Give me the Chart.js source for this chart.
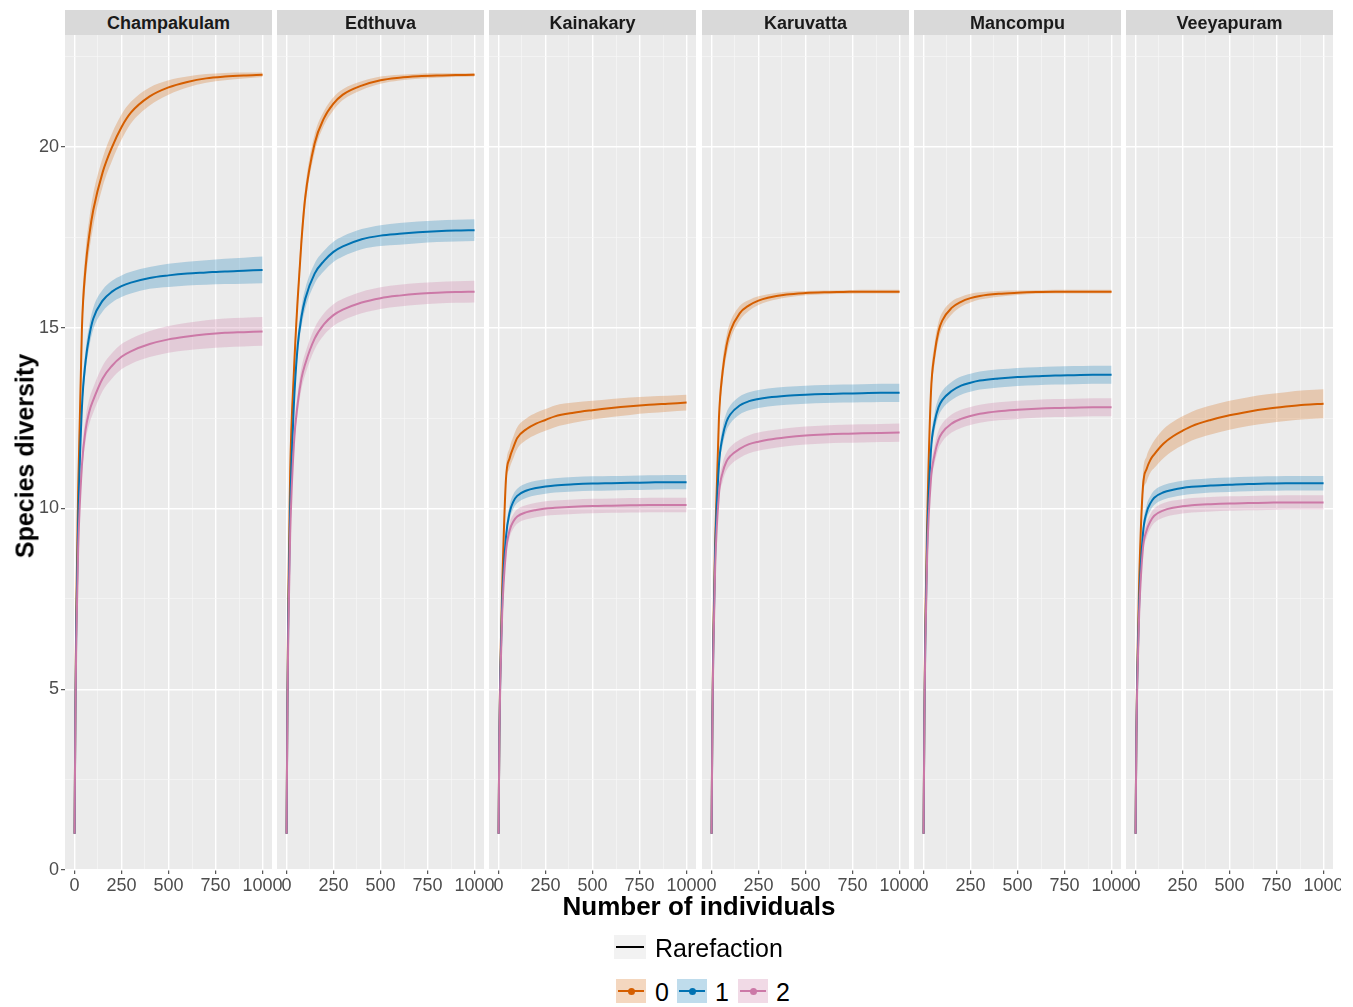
<!DOCTYPE html>
<html>
<head>
<meta charset="utf-8">
<script src="https://cdn.jsdelivr.net/npm/chart.js@4.4.1/dist/chart.umd.min.js"></script>
<style>
  html, body { margin: 0; padding: 0; background: #fff; }
  body { width: 1353px; height: 1007px; position: relative; overflow: hidden; font-family: "Liberation Sans", Arial, sans-serif; }
  #plots { position: absolute; left: 0; top: 0; width: 1341px; height: 905px; overflow: hidden; }
  #plots canvas { position: absolute; top: 20px; }
  .strip { position: absolute; top: 10px; height: 25px; line-height: 27px; background: #d9d9d9; color: #1a1a1a; font-weight: bold; font-size: 18px; text-align: center; }
  #ytitle { position: absolute; left: 25px; top: 456px; transform: translate(-50%, -50%) rotate(-90deg); font-weight: bold; font-size: 25px; white-space: nowrap; color: #000; }
  #xtitle { position: absolute; left: 699px; top: 906px; transform: translate(-50%, -50%); font-weight: bold; font-size: 26px; white-space: nowrap; color: #000; }
  .key { position: absolute; box-sizing: border-box; }
  .key .ln { position: absolute; left: 2px; right: 2px; top: 50%; height: 2px; margin-top: -1px; }
  .key .dot { position: absolute; left: 50%; top: 50%; width: 7px; height: 7px; margin: -3.5px 0 0 -3.5px; border-radius: 50%; }
  .ltext { position: absolute; font-size: 25px; color: #000; line-height: 24px; white-space: nowrap; }
</style>
</head>
<body>
<div id="plots"></div>
<div id="ytitle">Species diversity</div>
<div id="xtitle">Number of individuals</div>
<div id="legend"></div>
<script>
const sites = ['Champakulam', 'Edthuva', 'Kainakary', 'Karuvatta', 'Mancompu', 'Veeyapuram'];
const orders = ['0', '1', '2'];
const sampleSizes = [1, 5, 10, 20, 40, 60, 80, 100, 150, 200, 250, 300, 400, 500, 600, 700, 800, 900, 1000];

const xMajor = [0, 250, 500, 750, 1000];
const xMinor = [125, 375, 625, 875];
const yMajor = [0, 5, 10, 15, 20];
const yMinor = [2.5, 7.5, 12.5, 17.5, 22.5];

// estimated diversity (q = 0, 1, 2) per site
const champQ0 = [1, 4.5, 7.2, 10.5, 15.0, 16.7, 17.6, 18.25, 19.3, 20.0, 20.55, 20.95, 21.4, 21.65, 21.8, 21.9, 21.95, 21.98, 22.0];
const champQ1 = [1, 4.3, 6.8, 9.6, 12.8, 14.1, 14.8, 15.25, 15.75, 16.0, 16.15, 16.25, 16.38, 16.45, 16.5, 16.53, 16.56, 16.58, 16.6];
const champQ2 = [1, 4.1, 6.4, 8.9, 11.2, 12.2, 12.7, 13.0, 13.6, 13.95, 14.2, 14.35, 14.55, 14.68, 14.76, 14.82, 14.86, 14.88, 14.9];

const edthQ0 = [1, 4.6, 7.5, 11.0, 13.8, 15.8, 17.4, 18.6, 20.1, 20.8, 21.2, 21.45, 21.7, 21.85, 21.92, 21.96, 21.98, 21.99, 22.0];
const edthQ1 = [1, 4.4, 7.0, 10.0, 12.9, 14.5, 15.3, 15.8, 16.5, 16.85, 17.1, 17.25, 17.45, 17.55, 17.6, 17.64, 17.67, 17.69, 17.7];
const edthQ2 = [1, 4.2, 6.6, 9.3, 11.8, 12.9, 13.6, 14.0, 14.7, 15.1, 15.35, 15.5, 15.7, 15.82, 15.89, 15.94, 15.97, 15.99, 16.0];

const kainQ0 = [1, 3.8, 5.6, 7.8, 10.8, 11.4, 11.7, 11.95, 12.2, 12.35, 12.45, 12.55, 12.65, 12.72, 12.78, 12.83, 12.87, 12.9, 12.93];
const kainQ1 = [1, 3.7, 5.4, 7.4, 9.2, 9.9, 10.2, 10.35, 10.5, 10.57, 10.61, 10.64, 10.67, 10.69, 10.7, 10.71, 10.72, 10.73, 10.73];
const kainQ2 = [1, 3.6, 5.2, 7.1, 8.8, 9.4, 9.65, 9.78, 9.9, 9.96, 10.0, 10.02, 10.05, 10.07, 10.08, 10.09, 10.1, 10.1, 10.1];

const karuQ0 = [1, 4.2, 6.5, 9.1, 12.5, 13.8, 14.5, 14.9, 15.4, 15.62, 15.75, 15.83, 15.92, 15.96, 15.98, 15.99, 16.0, 16.0, 16.0];
const karuQ1 = [1, 4.0, 6.2, 8.8, 11.2, 12.0, 12.4, 12.6, 12.85, 12.97, 13.03, 13.07, 13.12, 13.15, 13.17, 13.18, 13.19, 13.2, 13.2];
const karuQ2 = [1, 3.9, 6.0, 8.4, 10.4, 11.0, 11.3, 11.45, 11.65, 11.78, 11.85, 11.9, 11.97, 12.02, 12.05, 12.07, 12.08, 12.09, 12.1];

const mancQ0 = [1, 4.3, 6.8, 9.6, 13.2, 14.3, 14.9, 15.2, 15.55, 15.72, 15.82, 15.88, 15.94, 15.97, 15.99, 16.0, 16.0, 16.0, 16.0];
const mancQ1 = [1, 4.1, 6.4, 9.1, 11.6, 12.4, 12.8, 13.0, 13.25, 13.4, 13.48, 13.54, 13.6, 13.64, 13.66, 13.68, 13.69, 13.7, 13.7];
const mancQ2 = [1, 4.0, 6.2, 8.7, 10.8, 11.5, 11.9, 12.1, 12.35, 12.48, 12.56, 12.62, 12.69, 12.73, 12.76, 12.78, 12.79, 12.8, 12.8];

const veeyQ0 = [1, 3.8, 5.6, 8.0, 10.6, 11.1, 11.35, 11.5, 11.8, 12.0, 12.15, 12.28, 12.45, 12.58, 12.68, 12.76, 12.82, 12.87, 12.9];
const veeyQ1 = [1, 3.7, 5.4, 7.4, 9.3, 9.9, 10.15, 10.3, 10.45, 10.52, 10.57, 10.6, 10.64, 10.66, 10.68, 10.69, 10.7, 10.7, 10.7];
const veeyQ2 = [1, 3.6, 5.2, 7.1, 8.9, 9.4, 9.65, 9.8, 9.95, 10.02, 10.06, 10.09, 10.12, 10.14, 10.15, 10.16, 10.17, 10.17, 10.17];

// half-width of the confidence ribbons
const champCi0 = [0, 0.1, 0.2, 0.3, 0.4, 0.45, 0.45, 0.45, 0.4, 0.38, 0.35, 0.3, 0.25, 0.2, 0.15, 0.12, 0.1, 0.08, 0.06];
const champCi1 = [0, 0.1, 0.15, 0.2, 0.3, 0.3, 0.3, 0.3, 0.3, 0.3, 0.3, 0.3, 0.3, 0.32, 0.33, 0.34, 0.35, 0.36, 0.37];
const champCi2 = [0, 0.1, 0.15, 0.2, 0.3, 0.33, 0.35, 0.35, 0.35, 0.35, 0.35, 0.35, 0.36, 0.37, 0.38, 0.39, 0.4, 0.4, 0.4];

const edthCi0 = [0, 0.1, 0.15, 0.2, 0.3, 0.3, 0.3, 0.28, 0.25, 0.2, 0.18, 0.15, 0.12, 0.1, 0.08, 0.07, 0.06, 0.05, 0.05];
const edthCi1 = [0, 0.1, 0.15, 0.2, 0.25, 0.28, 0.28, 0.28, 0.28, 0.28, 0.28, 0.28, 0.28, 0.29, 0.3, 0.3, 0.3, 0.3, 0.3];
const edthCi2 = [0, 0.1, 0.15, 0.2, 0.25, 0.28, 0.3, 0.3, 0.3, 0.3, 0.3, 0.3, 0.3, 0.3, 0.3, 0.3, 0.3, 0.3, 0.3];

const kainCi0 = [0, 0.1, 0.15, 0.2, 0.25, 0.28, 0.3, 0.3, 0.3, 0.3, 0.3, 0.3, 0.28, 0.26, 0.25, 0.24, 0.23, 0.22, 0.22];
const kainCi1 = [0, 0.05, 0.1, 0.15, 0.18, 0.2, 0.2, 0.2, 0.2, 0.2, 0.2, 0.2, 0.2, 0.2, 0.2, 0.2, 0.2, 0.2, 0.2];
const kainCi2 = [0, 0.05, 0.1, 0.15, 0.18, 0.2, 0.2, 0.2, 0.2, 0.2, 0.2, 0.2, 0.2, 0.2, 0.2, 0.2, 0.2, 0.2, 0.2];

const karuCi0 = [0, 0.1, 0.15, 0.2, 0.3, 0.3, 0.28, 0.25, 0.2, 0.15, 0.12, 0.1, 0.08, 0.06, 0.05, 0.05, 0.05, 0.05, 0.05];
const karuCi1 = [0, 0.05, 0.1, 0.15, 0.2, 0.25, 0.25, 0.25, 0.25, 0.25, 0.25, 0.25, 0.25, 0.25, 0.25, 0.25, 0.25, 0.25, 0.25];
const karuCi2 = [0, 0.05, 0.1, 0.15, 0.2, 0.25, 0.25, 0.25, 0.25, 0.25, 0.25, 0.25, 0.25, 0.25, 0.25, 0.25, 0.25, 0.25, 0.25];

const mancCi0 = [0, 0.1, 0.15, 0.2, 0.3, 0.28, 0.25, 0.22, 0.18, 0.14, 0.12, 0.1, 0.08, 0.06, 0.05, 0.05, 0.05, 0.05, 0.05];
const mancCi1 = [0, 0.05, 0.1, 0.15, 0.2, 0.25, 0.25, 0.25, 0.25, 0.25, 0.25, 0.25, 0.25, 0.25, 0.25, 0.25, 0.25, 0.25, 0.25];
const mancCi2 = [0, 0.05, 0.1, 0.15, 0.2, 0.25, 0.25, 0.25, 0.25, 0.25, 0.25, 0.25, 0.25, 0.25, 0.25, 0.25, 0.25, 0.25, 0.25];

const veeyCi0 = [0, 0.1, 0.15, 0.2, 0.3, 0.35, 0.35, 0.38, 0.4, 0.4, 0.4, 0.4, 0.4, 0.4, 0.4, 0.4, 0.4, 0.4, 0.4];
const veeyCi1 = [0, 0.05, 0.1, 0.15, 0.18, 0.2, 0.2, 0.2, 0.2, 0.2, 0.2, 0.2, 0.2, 0.2, 0.2, 0.2, 0.2, 0.2, 0.2];
const veeyCi2 = [0, 0.05, 0.1, 0.15, 0.18, 0.2, 0.2, 0.2, 0.2, 0.2, 0.2, 0.2, 0.2, 0.2, 0.2, 0.2, 0.2, 0.2, 0.2];

const panelSeries = [
  [champQ0, champQ1, champQ2],
  [edthQ0, edthQ1, edthQ2],
  [kainQ0, kainQ1, kainQ2],
  [karuQ0, karuQ1, karuQ2],
  [mancQ0, mancQ1, mancQ2],
  [veeyQ0, veeyQ1, veeyQ2],
];
const panelCi = [
  [champCi0, champCi1, champCi2],
  [edthCi0, edthCi1, edthCi2],
  [kainCi0, kainCi1, kainCi2],
  [karuCi0, karuCi1, karuCi2],
  [mancCi0, mancCi1, mancCi2],
  [veeyCi0, veeyCi1, veeyCi2],
];

const LINE_COLORS = ['#D55E00', '#0072B2', '#CC79A7'];
const BAND_COLORS = ['rgba(213,94,0,0.25)', 'rgba(0,114,178,0.25)', 'rgba(204,121,167,0.28)'];

const PANEL_LEFT = [65, 277, 489, 702, 914, 1126];
const PANEL_W = 207;
const PANEL_H = 835;
const PAD = 20;
const TOP_PAD = 15;
const Y_AXIS_W = 45;
const X_AXIS_H = 30;

const panelBg = {
  id: 'panelBg',
  beforeDraw(chart) {
    const { ctx, chartArea: a } = chart;
    ctx.save();
    ctx.fillStyle = '#ebebeb';
    ctx.fillRect(a.left, a.top, a.right - a.left, a.bottom - a.top);
    ctx.restore();
  },
};

const plots = document.getElementById('plots');

sites.forEach((site, p) => {
  const first = p === 0;
  const canvas = document.createElement('canvas');
  const w = (first ? Y_AXIS_W : PAD) + PANEL_W + PAD;
  const h = TOP_PAD + PANEL_H + X_AXIS_H;
  canvas.width = w;
  canvas.height = h;
  canvas.style.left = (PANEL_LEFT[p] - (first ? Y_AXIS_W : PAD)) + 'px';
  plots.appendChild(canvas);

  const datasets = [];
  // ribbons (drawn underneath)
  panelSeries[p].forEach((vals, s) => {
    const ci = panelCi[p][s];
    const loIdx = datasets.length;
    datasets.push({
      data: sampleSizes.map((x, i) => ({ x, y: vals[i] - ci[i] })),
      borderWidth: 0, pointRadius: 0, fill: false, order: 20 + s,
      cubicInterpolationMode: 'monotone',
    });
    datasets.push({
      data: sampleSizes.map((x, i) => ({ x, y: vals[i] + ci[i] })),
      borderWidth: 0, pointRadius: 0, backgroundColor: BAND_COLORS[s],
      fill: loIdx, order: 20 + s,
      cubicInterpolationMode: 'monotone',
    });
  });
  // lines
  panelSeries[p].forEach((vals, s) => {
    datasets.push({
      label: orders[s],
      data: sampleSizes.map((x, i) => ({ x, y: vals[i] })),
      borderColor: LINE_COLORS[s], borderWidth: 2, pointRadius: 0, fill: false,
      order: 2 - s,
      cubicInterpolationMode: 'monotone',
    });
  });

  const gridColor = (major) => (ctx) => (major.includes(ctx.tick.value) ? '#ffffff' : '#f7f7f7');
  const gridWidth = (major) => (ctx) => (major.includes(ctx.tick.value) ? 1.4 : 0.7);
  const tickCol = (major) => (ctx) => (major.includes(ctx.tick.value) ? '#333333' : 'rgba(0,0,0,0)');

  new Chart(canvas, {
    type: 'line',
    data: { datasets },
    options: {
      responsive: false,
      animation: false,
      devicePixelRatio: 1,
      layout: { padding: { left: first ? 0 : PAD, right: PAD, top: TOP_PAD, bottom: 0 } },
      plugins: { legend: { display: false }, tooltip: { enabled: false } },
      scales: {
        x: {
          type: 'linear', min: -50, max: 1050,
          afterBuildTicks: (scale) => { scale.ticks = [...xMajor, ...xMinor].sort((a, b) => a - b).map((v) => ({ value: v })); },
          afterFit: (scale) => { scale.height = X_AXIS_H; },
          border: { display: false },
          grid: { color: gridColor(xMajor), lineWidth: gridWidth(xMajor), tickColor: tickCol(xMajor), tickLength: 4, tickWidth: 1 },
          ticks: {
            autoSkip: false, maxRotation: 0, padding: 1, color: '#4d4d4d',
            font: { family: '"Liberation Sans", Arial, sans-serif', size: 18 },
            callback: (v) => (xMajor.includes(v) ? String(v) : ''),
          },
        },
        y: {
          type: 'linear', min: 0, max: 23.1,
          afterBuildTicks: (scale) => { scale.ticks = [...yMajor, ...yMinor].sort((a, b) => a - b).map((v) => ({ value: v })); },
          afterFit: (scale) => { scale.width = first ? Y_AXIS_W : 0; },
          border: { display: false },
          grid: {
            color: gridColor(yMajor), lineWidth: gridWidth(yMajor),
            drawTicks: first, tickColor: tickCol(yMajor), tickLength: 4, tickWidth: 1,
          },
          ticks: {
            display: first, autoSkip: false, padding: 2, color: '#4d4d4d',
            font: { family: '"Liberation Sans", Arial, sans-serif', size: 18 },
            callback: (v) => (yMajor.includes(v) ? String(v) : ''),
          },
        },
      },
    },
    plugins: [panelBg],
  });

  const strip = document.createElement('div');
  strip.className = 'strip';
  strip.style.left = PANEL_LEFT[p] + 'px';
  strip.style.width = PANEL_W + 'px';
  strip.textContent = site;
  document.body.appendChild(strip);
});

// legend
const legend = document.getElementById('legend');
function addKey(left, top, w, h, bg, lineColor, dotColor) {
  const k = document.createElement('div');
  k.className = 'key';
  Object.assign(k.style, { left: left + 'px', top: top + 'px', width: w + 'px', height: h + 'px', background: bg });
  const ln = document.createElement('div');
  ln.className = 'ln';
  ln.style.background = lineColor;
  k.appendChild(ln);
  if (dotColor) {
    const d = document.createElement('div');
    d.className = 'dot';
    d.style.background = dotColor;
    k.appendChild(d);
  }
  legend.appendChild(k);
}
function addText(left, top, txt) {
  const t = document.createElement('div');
  t.className = 'ltext';
  t.style.left = left + 'px';
  t.style.top = top + 'px';
  t.textContent = txt;
  legend.appendChild(t);
}
addKey(614, 935, 32, 24, '#f2f2f2', '#000000', null);
addText(655, 936, 'Rarefaction');
const keyLefts = [616, 677, 738];
const textLefts = [655, 715, 776];
orders.forEach((o, s) => {
  addKey(keyLefts[s], 979, 30, 24, BAND_COLORS[s], LINE_COLORS[s], LINE_COLORS[s]);
  addText(textLefts[s], 980, o);
});
</script>
</body>
</html>
